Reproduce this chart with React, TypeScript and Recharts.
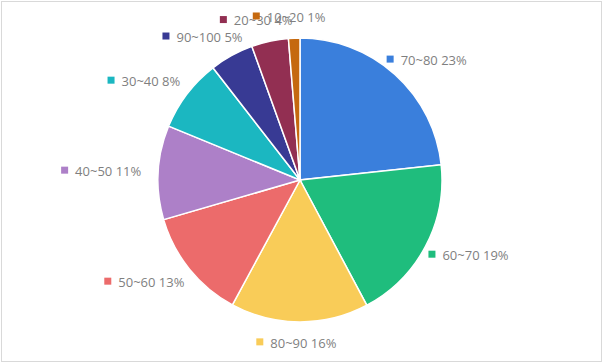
import React from "react";
import { PieChart, Pie, Cell } from "recharts";

const categories = ["70~80", "60~70", "80~90", "50~60", "40~50", "30~40", "90~100", "20~30", "10~20"];
const shares = [23.3, 18.9, 15.7, 12.6, 10.7, 8.3, 5.0, 4.2, 1.3];
const colors = ["#3a7fdc", "#1fbd7d", "#f9cc58", "#ec6b6b", "#ad80c8", "#1bb7c1", "#383a94", "#922f52", "#c5690f"];

const data = categories.map((name, i) => ({ name, value: shares[i] }));

const FONT_FAMILY = "'Open Sans', sans-serif";
const FONT_SIZE = 13;
const MARKER = 7;
const GAP = 7;
const RAD = Math.PI / 180;

let ctx: CanvasRenderingContext2D | null = null;
function measure(text: string): number {
  if (!ctx && typeof document !== "undefined") {
    ctx = document.createElement("canvas").getContext("2d");
  }
  if (!ctx) return text.length * FONT_SIZE * 0.55;
  ctx.font = `${FONT_SIZE}px ${FONT_FAMILY}`;
  return ctx.measureText(text).width;
}

const renderLabel = (props: any) => {
  const { cx, cy, midAngle, outerRadius, index, percent } = props;
  const text = `${categories[index]} ${Math.round(percent * 100)}%`;
  const tw = measure(text);
  const w = MARKER + GAP + tw;
  const h = 14;
  const c = Math.cos(-midAngle * RAD);
  const s = Math.sin(-midAngle * RAD);
  const r = outerRadius + 12 + (c < 0 ? 2 : 0);
  const ax = cx + r * c - 3;
  const ay = cy + r * s;
  const bx = ax + (c * w) / 2;
  const by = ay + (s * h) / 2;
  const left = bx - w / 2;
  const digitH = FONT_SIZE * 0.714;
  return (
    <g key={`lbl-${index}`}>
      <rect x={left} y={by - digitH / 2} width={MARKER} height={MARKER} fill={colors[index]} />
      <text
        x={left + MARKER + GAP}
        y={by + digitH / 2}
        fill="#7f7f7f"
        fontSize={FONT_SIZE}
        fontFamily={FONT_FAMILY}
        textAnchor="start"
      >
        {text}
      </text>
    </g>
  );
};

export default function App() {
  return (
    <div style={{ position: "absolute", left: 0, top: 0, width: 602, height: 362, background: "#fff" }}>
      <div
        style={{
          position: "absolute",
          left: 1,
          top: 1,
          width: 601,
          height: 361,
          boxSizing: "border-box",
          border: "1px solid #d9d9d9",
        }}
      />
      <div style={{ position: "absolute", left: 0, top: 0 }}>
        <PieChart width={602} height={362} margin={{ top: 0, right: 0, bottom: 0, left: 0 }}>
          <Pie
            data={data}
            dataKey="value"
            nameKey="name"
            cx={300}
            cy={180}
            outerRadius={142}
            startAngle={90}
            endAngle={-270}
            stroke="#ffffff"
            strokeWidth={1.5}
            label={renderLabel}
            labelLine={false}
            isAnimationActive={false}
          >
            {data.map((d, i) => (
              <Cell key={d.name} fill={colors[i]} />
            ))}
          </Pie>
        </PieChart>
      </div>
    </div>
  );
}
